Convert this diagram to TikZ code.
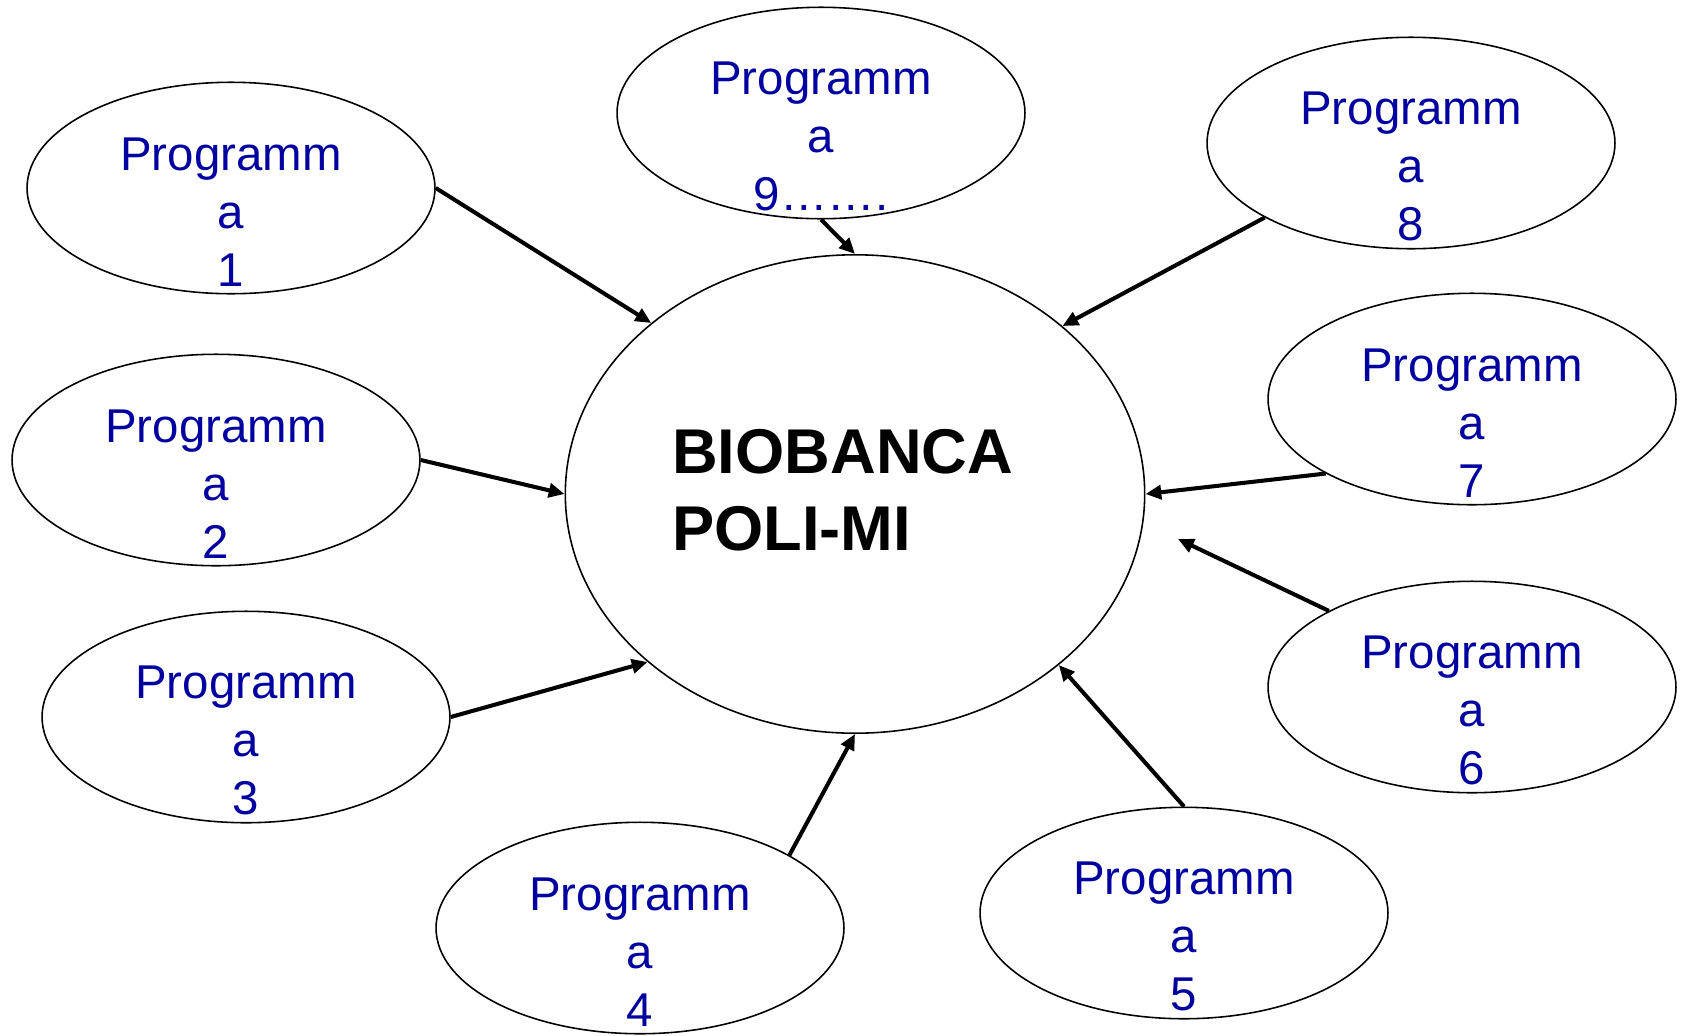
\documentclass[tikz,border=0pt]{standalone}
\usepackage{fontspec}
\setmainfont{Liberation Sans}
\usetikzlibrary{arrows.meta,shapes.geometric}
\definecolor{progblue}{RGB}{0,0,160}
\tikzset{
  prog/.style={draw,ellipse,line width=0.9pt,minimum width=8.16cm,minimum height=4.23cm,inner sep=0pt},
  progtext/.style={text=progblue,align=center,font=\fontsize{27}{33}\selectfont,yshift=-13.5pt},
  biotext/.style={align=left,font=\fontsize{36}{44}\selectfont\bfseries,xshift=-7pt,yshift=2pt},
  feed/.style={line width=2.3pt,-{Triangle[length=9pt,width=8pt]}}
}
\begin{document}
\begin{tikzpicture}[x=0.02cm,y=-0.02cm]
  \useasboundingbox (0,0) rectangle (1683,1035);
  \node[draw,ellipse,line width=0.9pt,minimum width=11.59cm,minimum height=9.57cm,inner sep=0pt,
        label={[biotext]center:BIOBANCA\\POLI-MI}] (bio) at (855,494) {};
  \foreach \n/\t/\x/\y in {1/1/231/188, 2/2/216/460, 3/3/246/717, 4/4/640/928, 5/5/1184/913,
      6/6/1472/687, 7/7/1472/399, 8/8/1411/143, 9/{9…….}/821/113}
    \node[prog,label={[progtext]center:Programm\\a\\\t}] (p\n) at (\x,\y) {};
  \coordinate (free6) at (1178,539);
  \foreach \a/\b in {p1.east/bio.140, p2.east/bio.west, p3.east/bio.219.5, p4.26.7/bio.south,
      p5.north/bio.320.3, p6.152.4/free6, p7.207.6/bio.east, p8.207.7/bio.39.5, p9.south/bio.north}
    \draw[feed] (\a) -- (\b);
\end{tikzpicture}
\end{document}
